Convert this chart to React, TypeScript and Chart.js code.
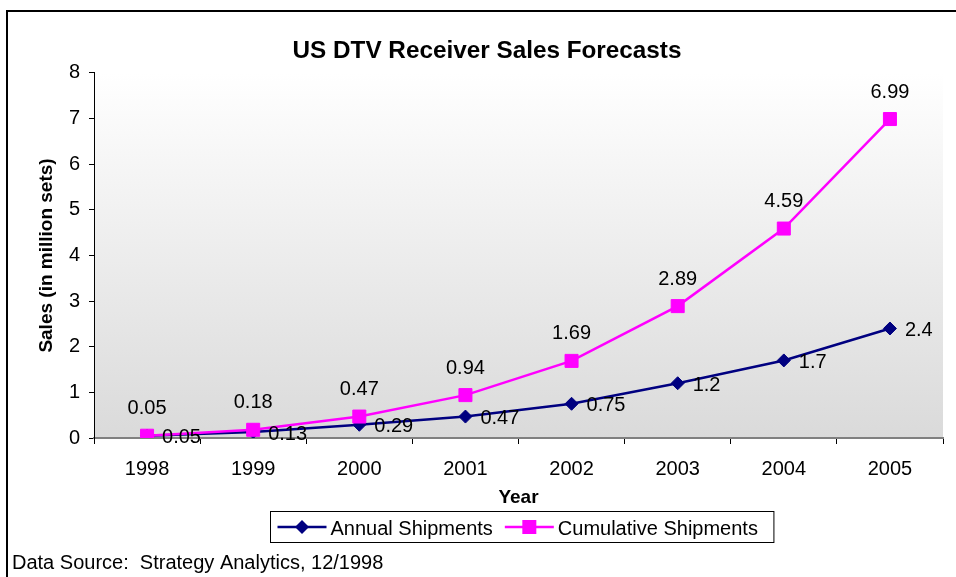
import React, { useEffect, useRef } from "react";
import { Chart, registerables } from "chart.js";

Chart.register(...registerables);

const years = ["1998", "1999", "2000", "2001", "2002", "2003", "2004", "2005"];
const annualShipments = [0.05, 0.13, 0.29, 0.47, 0.75, 1.2, 1.7, 2.4];
const cumulativeShipments = [0.05, 0.18, 0.47, 0.94, 1.69, 2.89, 4.59, 6.99];
const annualLabels = ["0.05", "0.13", "0.29", "0.47", "0.75", "1.2", "1.7", "2.4"];
const cumulativeLabels = ["0.05", "0.18", "0.47", "0.94", "1.69", "2.89", "4.59", "6.99"];
const yMin = 0;
const yMax = 8;
const yStep = 1;

const titleText = "US DTV Receiver Sales Forecasts";
const yTitle = "Sales (in million sets)";
const xTitle = "Year";
const sourceText = "Data Source:  Strategy Analytics, 12/1998";
const seriesNames = ["Annual Shipments", "Cumulative Shipments"];

const NAVY = "#000080";
const MAGENTA = "#FF00FF";
const FONT = "'Liberation Sans', Arial, Helvetica, sans-serif";

const W = 956;
const H = 577;

function drawMarker(ctx: CanvasRenderingContext2D, style: string, x: number, y: number, color: string) {
  ctx.save();
  ctx.fillStyle = color;
  ctx.beginPath();
  if (style === "rect") {
    ctx.rect(x - 7, y - 7, 14, 14);
  } else {
    const r = 7;
    ctx.moveTo(x, y - r);
    ctx.lineTo(x + r, y);
    ctx.lineTo(x, y + r);
    ctx.lineTo(x - r, y);
    ctx.closePath();
  }
  ctx.fill();
  ctx.restore();
}

const decorPlugin = {
  id: "decor",
  beforeDraw(chart: any) {
    const { ctx, chartArea } = chart;
    ctx.save();
    ctx.fillStyle = "#ffffff";
    ctx.fillRect(0, 0, chart.width, chart.height);
    const g = ctx.createLinearGradient(0, chartArea.top, 0, chartArea.bottom);
    g.addColorStop(0, "#ffffff");
    g.addColorStop(1, "#dadada");
    ctx.fillStyle = g;
    ctx.fillRect(chartArea.left, chartArea.top, chartArea.right - chartArea.left, chartArea.bottom - chartArea.top);
    ctx.restore();
  },
  afterDatasetsDraw(chart: any) {
    const { ctx } = chart;
    ctx.save();
    ctx.font = `20px ${FONT}`;
    ctx.fillStyle = "#000";
    const m0 = chart.getDatasetMeta(0);
    m0.data.forEach((p: any, i: number) => {
      ctx.textAlign = "left";
      ctx.textBaseline = "middle";
      ctx.fillText(annualLabels[i], p.x + 15, p.y + 2);
    });
    const m1 = chart.getDatasetMeta(1);
    m1.data.forEach((p: any, i: number) => {
      ctx.textAlign = "center";
      ctx.textBaseline = "middle";
      ctx.fillText(cumulativeLabels[i], p.x, p.y - 27);
    });
    ctx.restore();
  },
  afterDraw(chart: any) {
    const { ctx, chartArea } = chart;
    ctx.save();
    // outer frame
    ctx.strokeStyle = "#000";
    ctx.lineWidth = 2;
    ctx.strokeRect(7, 11, chart.width + 20, chart.height + 20);

    // legend
    ctx.font = `20px ${FONT}`;
    const w1 = ctx.measureText(seriesNames[0]).width;
    const w2 = ctx.measureText(seriesNames[1]).width;
    const padL = 7, lineW = 49, gap = 4, between = 12, padR = 16;
    const total = padL + lineW + gap + w1 + between + lineW + gap + w2 + padR;
    const cx = (chartArea.left + chartArea.right) / 2 + 3;
    const left = Math.round(cx - total / 2) + 0.5;
    const top = 511.5;
    const boxH = 31;
    const cy = top + boxH / 2;
    ctx.lineWidth = 1;
    ctx.strokeStyle = "#000";
    ctx.strokeRect(left, top, total, boxH);

    let x = left + padL;
    const items = [
      { color: NAVY, style: "rectRot", text: seriesNames[0], w: w1 },
      { color: MAGENTA, style: "rect", text: seriesNames[1], w: w2 },
    ];
    items.forEach((it, idx) => {
      ctx.strokeStyle = it.color;
      ctx.lineWidth = 2.5;
      ctx.beginPath();
      ctx.moveTo(x, cy);
      ctx.lineTo(x + lineW, cy);
      ctx.stroke();
      drawMarker(ctx, it.style, x + lineW / 2, cy, it.color);
      x += lineW + gap;
      ctx.fillStyle = "#000";
      ctx.textAlign = "left";
      ctx.textBaseline = "middle";
      ctx.fillText(it.text, x, cy + 2.5);
      x += it.w + (idx === 0 ? between : 0);
    });

    // source text
    ctx.fillStyle = "#000";
    ctx.textAlign = "left";
    ctx.textBaseline = "middle";
    ctx.font = `20px ${FONT}`;
    ctx.fillText(sourceText, 12, 563);
    ctx.restore();
  },
};

export default function App() {
  const ref = useRef<HTMLCanvasElement | null>(null);

  useEffect(() => {
    if (!ref.current) return;
    const chart = new Chart(ref.current, {
      type: "line",
      data: {
        labels: years,
        datasets: [
          {
            label: seriesNames[0],
            data: annualShipments,
            borderColor: NAVY,
            backgroundColor: NAVY,
            borderWidth: 2.5,
            pointStyle: "rectRot",
            pointRadius: 6.5,
            pointBorderWidth: 1,
            pointBackgroundColor: NAVY,
            pointBorderColor: NAVY,
            tension: 0,
            order: 1,
          },
          {
            label: seriesNames[1],
            data: cumulativeShipments,
            borderColor: MAGENTA,
            backgroundColor: MAGENTA,
            borderWidth: 2.5,
            pointStyle: "rect",
            pointRadius: 9.2,
            pointBorderWidth: 1,
            pointBackgroundColor: MAGENTA,
            pointBorderColor: MAGENTA,
            tension: 0,
            order: 0,
          },
        ],
      },
      options: {
        responsive: false,
        animation: false,
        devicePixelRatio: 1,
        layout: { padding: { top: 0, left: 31, right: 13, bottom: 68 } },
        plugins: {
          legend: { display: false },
          tooltip: { enabled: false },
          title: {
            display: true,
            text: titleText,
            color: "#000",
            font: { family: FONT, size: 24.3, weight: "bold" },
            padding: { top: 37, bottom: 6.8 },
          },
        },
        scales: {
          x: {
            type: "category",
            offset: true,
            grid: {
              offset: true,
              drawOnChartArea: false,
              drawTicks: true,
              tickLength: 6,
              color: "#000",
              tickColor: "#000",
            },
            border: { display: true, color: "#808080", width: 2 },
            ticks: {
              color: "#000",
              font: { family: FONT, size: 20 },
              padding: 13,
              maxRotation: 0,
              autoSkip: false,
            },
            title: {
              display: true,
              text: xTitle,
              color: "#000",
              font: { family: FONT, size: 19, weight: "bold" },
              padding: { top: 0, bottom: 0 },
            },
            afterFit(scale: any) {
              scale.height = 71;
            },
          },
          y: {
            min: yMin,
            max: yMax,
            grid: {
              drawOnChartArea: false,
              drawTicks: true,
              tickLength: 5,
              color: "#000",
              tickColor: "#000",
            },
            border: { display: true, color: "#000", width: 1 },
            ticks: {
              stepSize: yStep,
              color: "#000",
              font: { family: FONT, size: 20 },
              padding: 9,
            },
            title: {
              display: true,
              text: yTitle,
              color: "#000",
              font: { family: FONT, size: 19, weight: "bold" },
              padding: { top: 4.5, bottom: 0 },
            },
            afterFit(scale: any) {
              scale.width = 63;
            },
          },
        },
      },
      plugins: [decorPlugin],
    });
    return () => chart.destroy();
  }, []);

  return (
    <div style={{ position: "absolute", left: 0, top: 0, width: W, height: H, background: "#fff" }}>
      <canvas ref={ref} width={W} height={H} style={{ display: "block", width: W, height: H }} />
    </div>
  );
}
